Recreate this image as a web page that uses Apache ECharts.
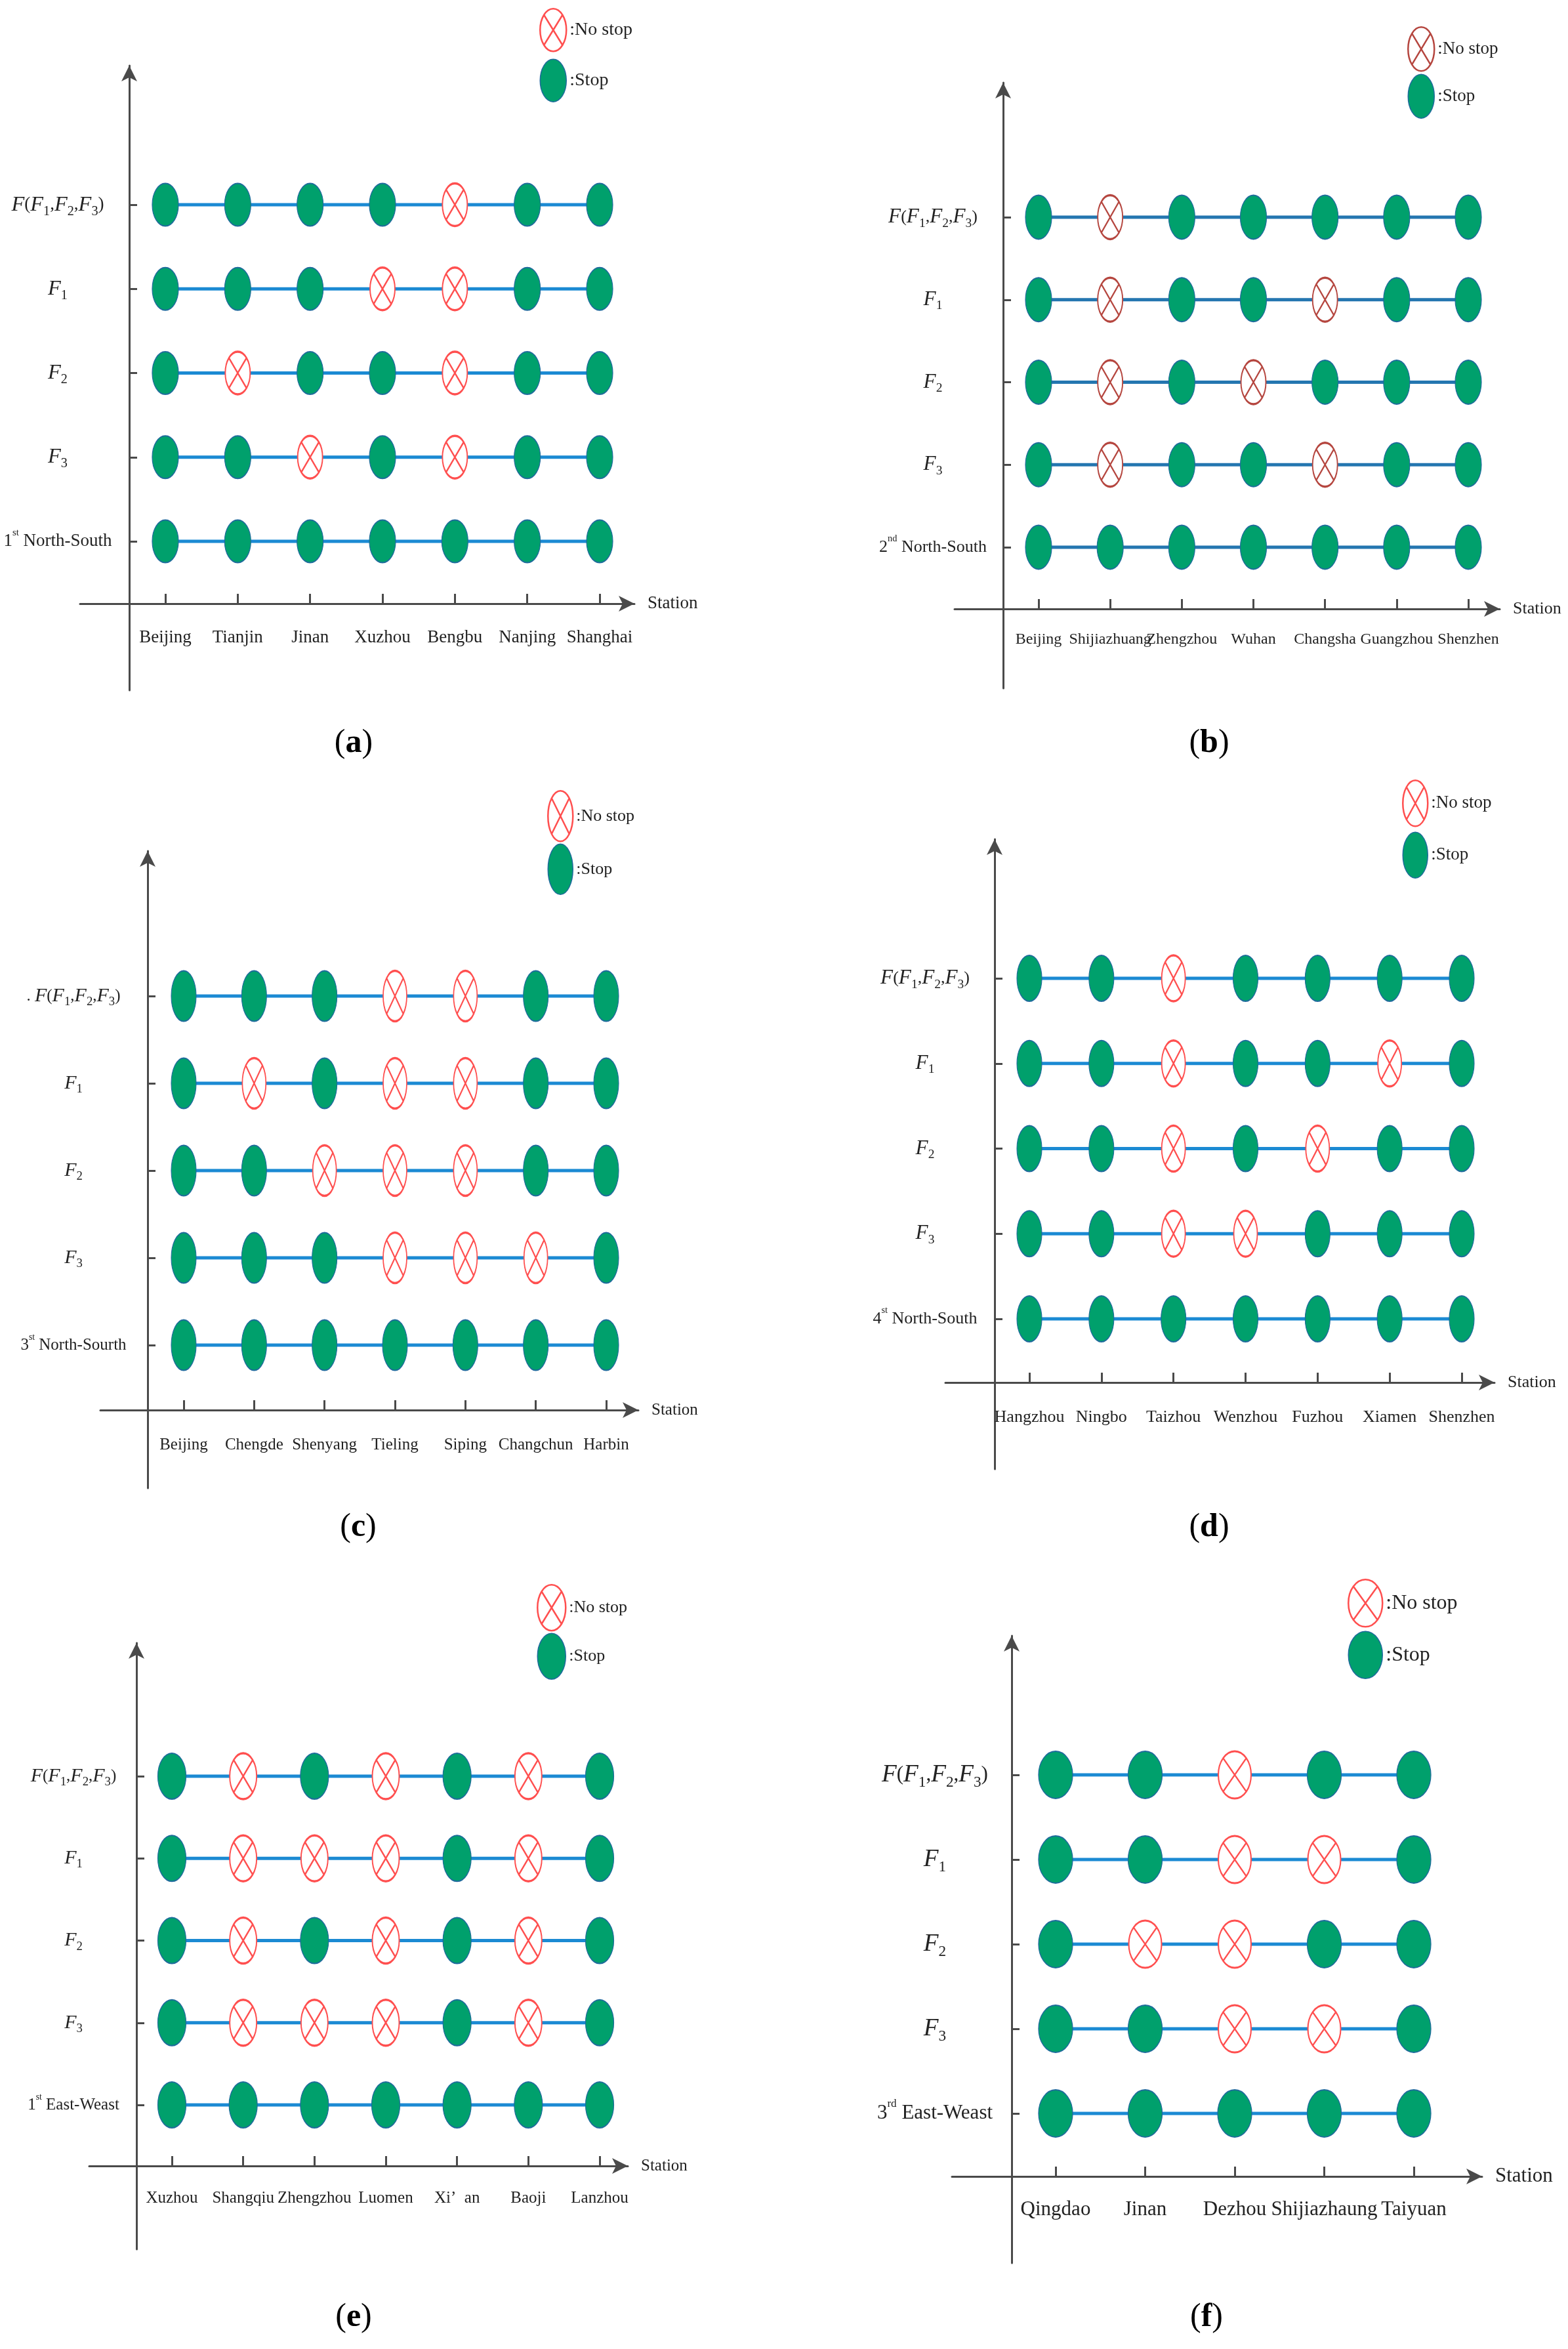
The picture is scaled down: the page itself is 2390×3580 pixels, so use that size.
<!DOCTYPE html>
<html><head><meta charset="utf-8">
<script src="https://cdn.jsdelivr.net/npm/echarts@6/dist/echarts.min.js"></script>
<style>html,body{margin:0;padding:0;background:#fff}#c{width:2390px;height:3580px}</style>
</head><body><div id="c"></div>
<script>
// ---------------- DATA ----------------
const captions = ['a', 'b', 'c', 'd', 'e', 'f'];
const legendNames = ['No stop', 'Stop'];
const axisName = 'Station';

const stationsA = ['Beijing', 'Tianjin', 'Jinan', 'Xuzhou', 'Bengbu', 'Nanjing', 'Shanghai'];
const rowsA = ['F(F1,F2,F3)', 'F1', 'F2', 'F3', '1st North-South'];
const stopsA = [
  [1, 1, 1, 1, 0, 1, 1],
  [1, 1, 1, 0, 0, 1, 1],
  [1, 0, 1, 1, 0, 1, 1],
  [1, 1, 0, 1, 0, 1, 1],
  [1, 1, 1, 1, 1, 1, 1]
];

const stationsB = ['Beijing', 'Shijiazhuang', 'Zhengzhou', 'Wuhan', 'Changsha', 'Guangzhou', 'Shenzhen'];
const rowsB = ['F(F1,F2,F3)', 'F1', 'F2', 'F3', '2nd North-South'];
const stopsB = [
  [1, 0, 1, 1, 1, 1, 1],
  [1, 0, 1, 1, 0, 1, 1],
  [1, 0, 1, 0, 1, 1, 1],
  [1, 0, 1, 1, 0, 1, 1],
  [1, 1, 1, 1, 1, 1, 1]
];

const stationsC = ['Beijing', 'Chengde', 'Shenyang', 'Tieling', 'Siping', 'Changchun', 'Harbin'];
const rowsC = ['. F(F1,F2,F3)', 'F1', 'F2', 'F3', '3st North-Sourth'];
const stopsC = [
  [1, 1, 1, 0, 0, 1, 1],
  [1, 0, 1, 0, 0, 1, 1],
  [1, 1, 0, 0, 0, 1, 1],
  [1, 1, 1, 0, 0, 0, 1],
  [1, 1, 1, 1, 1, 1, 1]
];

const stationsD = ['Hangzhou', 'Ningbo', 'Taizhou', 'Wenzhou', 'Fuzhou', 'Xiamen', 'Shenzhen'];
const rowsD = ['F(F1,F2,F3)', 'F1', 'F2', 'F3', '4st North-South'];
const stopsD = [
  [1, 1, 0, 1, 1, 1, 1],
  [1, 1, 0, 1, 1, 0, 1],
  [1, 1, 0, 1, 0, 1, 1],
  [1, 1, 0, 0, 1, 1, 1],
  [1, 1, 1, 1, 1, 1, 1]
];

const stationsE = ['Xuzhou', 'Shangqiu', 'Zhengzhou', 'Luomen', 'Xi\u2019  an', 'Baoji', 'Lanzhou'];
const rowsE = ['F(F1,F2,F3)', 'F1', 'F2', 'F3', '1st East-Weast'];
const stopsE = [
  [1, 0, 1, 0, 1, 0, 1],
  [1, 0, 0, 0, 1, 0, 1],
  [1, 0, 1, 0, 1, 0, 1],
  [1, 0, 0, 0, 1, 0, 1],
  [1, 1, 1, 1, 1, 1, 1]
];

const stationsF = ['Qingdao', 'Jinan', 'Dezhou', 'Shijiazhaung', 'Taiyuan'];
const rowsF = ['F(F1,F2,F3)', 'F1', 'F2', 'F3', '3rd East-Weast'];
const stopsF = [
  [1, 1, 0, 1, 1],
  [1, 1, 0, 0, 1],
  [1, 0, 0, 1, 1],
  [1, 1, 0, 0, 1],
  [1, 1, 1, 1, 1]
];

const panelData = [
  { stations: stationsA, rows: rowsA, stops: stopsA },
  { stations: stationsB, rows: rowsB, stops: stopsB },
  { stations: stationsC, rows: rowsC, stops: stopsC },
  { stations: stationsD, rows: rowsD, stops: stopsD },
  { stations: stationsE, rows: rowsE, stops: stopsE },
  { stations: stationsF, rows: rowsF, stops: stopsF }
];

// ---------------- LAYOUT / STYLE ----------------
const layout = [
  { yAxisX: 197, xAxisY: 920, xStart: 122, xEnd: 979, yTop: 88, yBottom: 1052, col0: 252, colN: 914, rowTop: 312, rowBot: 825, xLabOff: 52, yLabCx: 88, legX: 822, legY: 12, legGap: 10, mk: [40, 65], fs: 27, xfs: 27, cap: [539, 1133], line: '#1b8ad3', red: '#ff4f4f' },
  { yAxisX: 1529, xAxisY: 928, xStart: 1455, xEnd: 2298, yTop: 114, yBottom: 1049, col0: 1583, colN: 2238, rowTop: 331, rowBot: 834, xLabOff: 47, yLabCx: 1422, legX: 2145, legY: 40, legGap: 3, mk: [40, 67], fs: 26, xfs: 24, cap: [1843, 1133], line: '#2476b0', red: '#b5463f' },
  { yAxisX: 225, xAxisY: 2149, xStart: 153, xEnd: 985, yTop: 1285, yBottom: 2268, col0: 280, colN: 924, rowTop: 1518, rowBot: 2050, xLabOff: 53, yLabCx: 112, legX: 834, legY: 1204, legGap: 2, mk: [38, 77], fs: 25, xfs: 25, cap: [546, 2328], line: '#1b8ad3', red: '#ff4f4f' },
  { yAxisX: 1516, xAxisY: 2107, xStart: 1441, xEnd: 2290, yTop: 1267, yBottom: 2239, col0: 1569, colN: 2228, rowTop: 1491, rowBot: 2010, xLabOff: 53, yLabCx: 1410, legX: 2137, legY: 1188, legGap: 7, mk: [38, 70], fs: 26, xfs: 26, cap: [1843, 2328], line: '#1b8ad3', red: '#ff4f4f' },
  { yAxisX: 208, xAxisY: 3301, xStart: 136, xEnd: 969, yTop: 2492, yBottom: 3428, col0: 262, colN: 914, rowTop: 2707, rowBot: 3208, xLabOff: 49, yLabCx: 112, legX: 818, legY: 2414, legGap: 2, mk: [43, 70], fs: 25, xfs: 25, cap: [539, 3532], line: '#1b8ad3', red: '#ff4f4f' },
  { yAxisX: 1542, xAxisY: 3317, xStart: 1451, xEnd: 2271, yTop: 2481, yBottom: 3449, col0: 1609, colN: 2155, rowTop: 2705, rowBot: 3221, xLabOff: 51, yLabCx: 1425, legX: 2054, legY: 2406, legGap: 5, mk: [52, 72], fs: 31, xfs: 31, cap: [1839, 3532], line: '#1b8ad3', red: '#ff4f4f' }
];

const FONT = 'Liberation Serif';
const AX = '#4a4a4a';
const GREEN = '#00a06c';
const GREEN_EDGE = '#1f6b9c';
const AR = 24; // arrow length
const ELLIPSE = 'path://M0,-1C0.5523,-1,1,-0.5523,1,0C1,0.5523,0.5523,1,0,1C-0.5523,1,-1,0.5523,-1,0C-1,-0.5523,-0.5523,-1,0,-1Z';
const NOSTOP = ELLIPSE + 'M-0.7071,-0.7071L0.7071,0.7071M0.7071,-0.7071L-0.7071,0.7071';

function richLabel(s) {
  const m = s.match(/^(\d)(st|nd|rd|th) (.*)$/);
  if (m) return '{n|' + m[1] + '}{sup|' + m[2] + '}{n| ' + m[3] + '}';
  let out = '';
  const re = /F(\d)?|[^F]+/g;
  let t;
  while ((t = re.exec(s)) !== null) {
    if (t[0][0] === 'F') {
      out += '{i|F}';
      if (t[1]) out += '{s|' + t[1] + '}';
    } else {
      out += '{n|' + t[0] + '}';
    }
  }
  return out;
}

const grids = [], xAxes = [], yAxes = [], series = [], legends = [], graphics = [];

panelData.forEach((pd, p) => {
  const L = layout[p];
  const n = pd.stations.length;
  const nr = pd.rows.length;
  const sx = (L.colN - L.col0) / (n - 1);
  const x0 = (L.col0 - L.yAxisX) / sx;
  const lineEnd = L.xEnd - AR / 2;
  const sy = (L.rowBot - L.rowTop) / (nr - 1);
  const y0 = (L.xAxisY - L.rowBot) / sy;
  const lineTop = L.yTop + AR / 2;
  const xs = pd.stations.map((_, i) => x0 + i);
  const ys = pd.rows.map((_, r) => y0 + (nr - 1 - r));
  const fs = L.fs;

  grids.push({ left: L.xStart, top: lineTop, width: lineEnd - L.xStart, height: L.yBottom - lineTop, containLabel: false, outerBoundsMode: 'none' });

  xAxes.push({
    gridIndex: p, type: 'value',
    min: (L.xStart - L.yAxisX) / sx, max: (lineEnd - L.yAxisX) / sx,
    axisLine: { onZero: true, symbol: ['none', 'arrow'], symbolSize: [18, AR], lineStyle: { color: AX, width: 3 } },
    axisTick: { show: true, inside: true, length: 15, customValues: xs, lineStyle: { color: AX, width: 3 } },
    axisLabel: {
      customValues: xs, margin: L.xAxisY + L.xLabOff - L.yBottom, verticalAlign: 'middle',
      showMinLabel: true, showMaxLabel: true, hideOverlap: false,
      formatter: v => pd.stations[Math.round(v - x0)] || '',
      fontFamily: FONT, fontSize: L.xfs, color: '#222'
    },
    splitLine: { show: false },
    name: axisName, nameLocation: 'end', nameGap: 20,
    nameTextStyle: { fontFamily: FONT, fontSize: fs, color: '#222', align: 'left', verticalAlign: 'middle' }
  });

  yAxes.push({
    gridIndex: p, type: 'value',
    min: -(L.yBottom - L.xAxisY) / sy, max: (L.xAxisY - lineTop) / sy,
    axisLine: { onZero: true, symbol: ['none', 'arrow'], symbolSize: [18, AR], lineStyle: { color: AX, width: 3 } },
    axisTick: { show: true, inside: true, length: 12, customValues: ys, lineStyle: { color: AX, width: 3 } },
    axisLabel: {
      customValues: ys, margin: L.xStart - L.yLabCx, align: 'center', verticalAlign: 'middle',
      showMinLabel: true, showMaxLabel: true, hideOverlap: false,
      formatter: v => richLabel(pd.rows[Math.round(nr - 1 - (v - y0))] || ''),
      rich: {
        n: { fontFamily: FONT, fontSize: fs, color: '#222', lineHeight: fs * 1.5 },
        i: { fontFamily: FONT, fontStyle: 'italic', fontSize: fs * 1.2, color: '#222', lineHeight: fs * 1.5 },
        s: { fontFamily: FONT, fontSize: fs * 0.75, color: '#222', lineHeight: fs * 0.85, verticalAlign: 'bottom' },
        sup: { fontFamily: FONT, fontSize: fs * 0.55, color: '#222', lineHeight: fs * 0.9, verticalAlign: 'top' }
      }
    },
    splitLine: { show: false }
  });

  pd.rows.forEach((row, r) => {
    series.push({
      type: 'line', name: 'route-' + captions[p] + '-' + r, xAxisIndex: p, yAxisIndex: p,
      data: pd.stations.map((_, i) => [xs[i], ys[r]]),
      symbol: 'none', silent: true, z: 2,
      lineStyle: { color: L.line, width: 5 }
    });
  });

  const stopPts = [], noPts = [];
  pd.stops.forEach((rowFlags, r) => rowFlags.forEach((f, i) => {
    (f ? stopPts : noPts).push([xs[i], ys[r]]);
  }));

  series.push({
    type: 'scatter', name: legendNames[1], xAxisIndex: p, yAxisIndex: p, data: stopPts,
    symbol: ELLIPSE, symbolSize: L.mk, silent: true, z: 4,
    itemStyle: { color: GREEN, borderColor: GREEN_EDGE, borderWidth: 1.5, opacity: 1 }
  });
  series.push({
    type: 'scatter', name: legendNames[0], xAxisIndex: p, yAxisIndex: p, data: noPts,
    symbol: NOSTOP, symbolSize: [L.mk[0] - 2, L.mk[1]], silent: true, z: 4,
    itemStyle: { color: '#ffffff', borderColor: L.red, borderWidth: 2.5, opacity: 1 }
  });

  legends.push({
    left: L.legX, top: L.legY, orient: 'vertical', padding: 0, itemGap: L.legGap,
    itemWidth: L.mk[0], itemHeight: L.mk[1], selectedMode: false, symbolKeepAspect: false,
    data: [
      { name: legendNames[0], icon: NOSTOP, itemStyle: { color: '#ffffff', borderColor: L.red, borderWidth: 2.5 } },
      { name: legendNames[1], icon: ELLIPSE, itemStyle: { color: GREEN, borderColor: GREEN_EDGE, borderWidth: 1.5 } }
    ],
    formatter: nm => ':' + nm,
    textStyle: { fontFamily: FONT, fontSize: fs + 1, color: '#222' }
  });

  graphics.push({
    type: 'text', x: L.cap[0], y: L.cap[1], silent: true,
    style: {
      text: '{p|(}{b|' + captions[p] + '}{p|)}', align: 'center', verticalAlign: 'middle',
      fill: '#000',
      rich: {
        p: { fontFamily: FONT, fontSize: 50, fill: '#000' },
        b: { fontFamily: FONT, fontSize: 50, fontWeight: 'bold', fill: '#000' }
      }
    }
  });
});

const chart = echarts.init(document.getElementById('c'), null, { renderer: 'canvas' });
chart.setOption({
  backgroundColor: '#ffffff',
  animation: false,
  grid: grids,
  xAxis: xAxes,
  yAxis: yAxes,
  legend: legends,
  series: series,
  graphic: { elements: graphics }
});
</script>
</body></html>
